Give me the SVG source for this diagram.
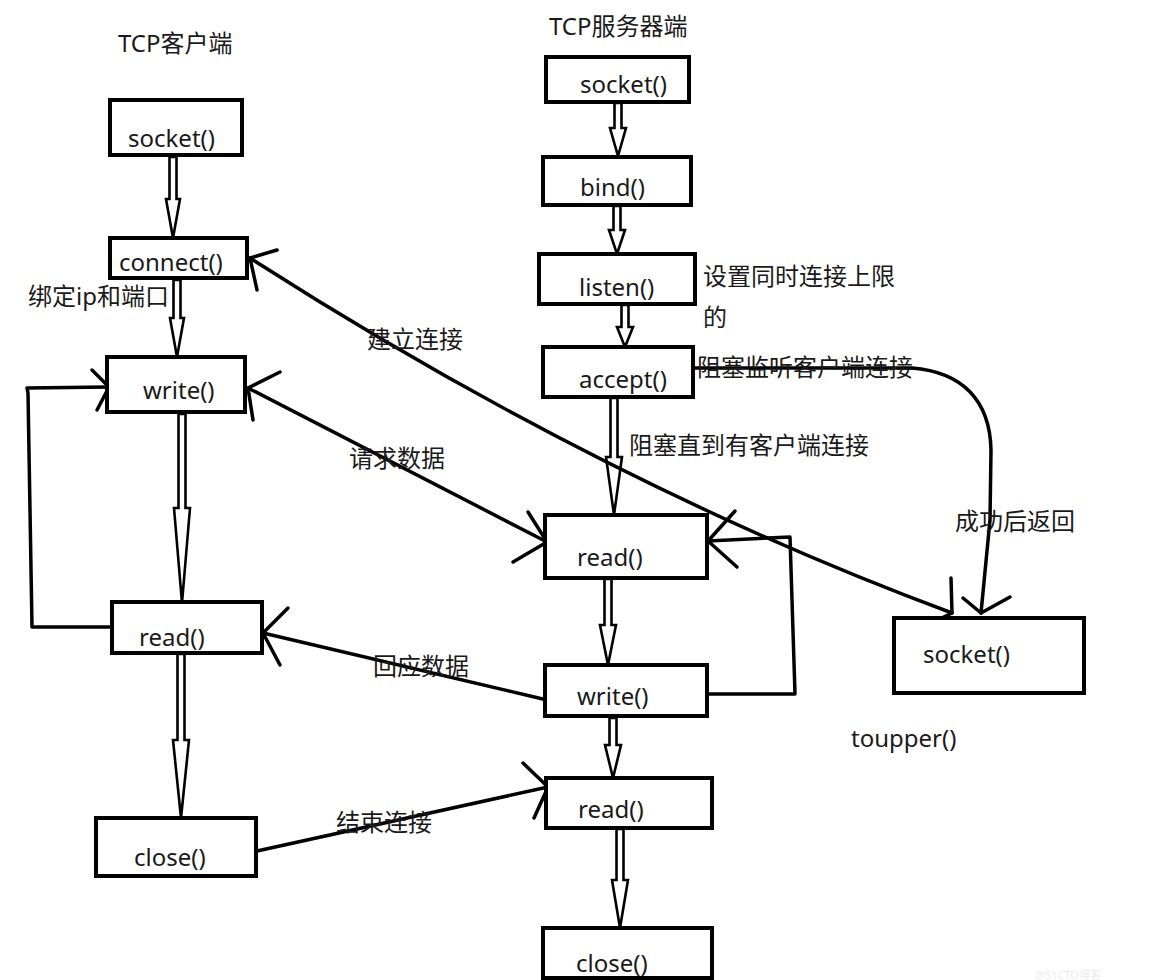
<svg xmlns="http://www.w3.org/2000/svg" width="1164" height="980" viewBox="0 0 1164 980">
<style>
.box{fill:#fff;stroke:#000;stroke-width:4}
.t{font-family:"Noto Sans","Noto Sans CJK SC",sans-serif;font-size:24px;fill:#1a1a1a}
.c{fill:none;stroke:#000;stroke-width:3.5;stroke-linecap:round;stroke-linejoin:round}
.dbl{fill:#fff;stroke:#000;stroke-width:2.6;stroke-linejoin:miter}
</style>
<rect width="1164" height="980" fill="#fff"/>

<g id="connectors">
  <!-- client vertical double arrows -->
  <polygon class="dbl" points="169.5,157 176.5,157 176.5,199 180,199 173,238 166,199 169.5,199"/>
  <polygon class="dbl" points="173.5,280 180.5,280 180.5,318 184,318 177,357 170,318 173.5,318"/>
  <polygon class="dbl" points="178.5,414 185.5,414 185.5,508 190,508 182,603 174,508 178.5,508"/>
  <polygon class="dbl" points="177.5,654 184.5,654 184.5,740 189,740 181,818 173,740 177.5,740"/>
  <!-- server vertical double arrows -->
  <polygon class="dbl" points="614.5,103 621.5,103 621.5,128 626,128 618,156 610,128 614.5,128"/>
  <polygon class="dbl" points="613.5,206 620.5,206 620.5,230 625,230 617,254 609,230 613.5,230"/>
  <polygon class="dbl" points="621.5,305 628.5,305 628.5,327 633,327 625,347 617,327 621.5,327"/>
  <polygon class="dbl" points="610.5,398 617.5,398 617.5,457 622,457 614,515 606,457 610.5,457"/>
  <polygon class="dbl" points="604.5,579 611.5,579 611.5,625 616,625 608,665 600,625 604.5,625"/>
  <polygon class="dbl" points="609.5,718 616.5,718 616.5,745 621,745 613,778 605,745 609.5,745"/>
  <polygon class="dbl" points="616.5,829 623.5,829 623.5,880 628,880 620,928 612,880 616.5,880"/>

  <!-- client loop read -> write -->
  <path class="c" d="M110,627 L32,627 L28,393 L27,388 L108,387"/>
  <path class="c" d="M92,370 L109,387 L97,410"/>

  <!-- 建立连接 -->
  <path class="c" d="M250,258 Q601,483 952,613"/>
  <path class="c" d="M277,250 L250,258 L257,290"/>
  <path class="c" d="M923,627 L952,613 L951,578"/>

  <!-- 请求数据 -->
  <path class="c" d="M248,388 L547,542"/>
  <path class="c" d="M280,372 L248,388 L253,420"/>
  <path class="c" d="M528,512 L547,542 L513,562"/>

  <!-- 回应数据 -->
  <path class="c" d="M547,700 L263,633"/>
  <path class="c" d="M288,608 L263,633 L280,665"/>

  <!-- 结束连接 -->
  <path class="c" d="M257,851 L548,787"/>
  <path class="c" d="M523,763 L548,787 L534,818"/>

  <!-- server loop write -> read -->
  <path class="c" d="M708,694 L795,694 L790,537 L708,541"/>
  <path class="c" d="M735,511 L708,541 L737,567"/>

  <!-- accept -> socket -->
  <path class="c" d="M694,368 L912,368 C962,372 990,400 991,450 L990,520 L981,613"/>
  <path class="c" d="M963,598 L981,613 L1010,597"/>
</g>

<g id="title-client"><text class="t" x="118" y="52">TCP客户端</text></g>
<g id="title-server"><text class="t" x="549" y="35">TCP服务器端</text></g>

<g id="c-socket"><rect class="box" x="110" y="100" width="132" height="55"/><text class="t" x="128" y="147">socket()</text></g>
<g id="c-connect"><rect class="box" x="110" y="238" width="137" height="40"/><text class="t" x="119" y="271">connect()</text></g>
<g id="c-write"><rect class="box" x="107" y="357" width="138" height="55"/><text class="t" x="143" y="399">write()</text></g>
<g id="c-read"><rect class="box" x="112" y="602" width="150" height="51"/><text class="t" x="139" y="646">read()</text></g>
<g id="c-close"><rect class="box" x="96" y="818" width="160" height="58"/><text class="t" x="134" y="866">close()</text></g>

<g id="s-socket"><rect class="box" x="546" y="57" width="143" height="45"/><text class="t" x="580" y="93">socket()</text></g>
<g id="s-bind"><rect class="box" x="543" y="157" width="148" height="48"/><text class="t" x="580" y="196">bind()</text></g>
<g id="s-listen"><rect class="box" x="539" y="254" width="156" height="50"/><text class="t" x="579" y="296">listen()</text></g>
<g id="s-accept"><rect class="box" x="543" y="347" width="150" height="50"/><text class="t" x="579" y="388">accept()</text></g>
<g id="s-read"><rect class="box" x="545" y="515" width="162" height="63"/><text class="t" x="577" y="566">read()</text></g>
<g id="s-write"><rect class="box" x="545" y="665" width="162" height="51"/><text class="t" x="577" y="705">write()</text></g>
<g id="s-read2"><rect class="box" x="546" y="778" width="166" height="50"/><text class="t" x="578" y="818">read()</text></g>
<g id="s-close"><rect class="box" x="543" y="928" width="169" height="50"/><text class="t" x="576" y="972">close()</text></g>
<g id="r-socket"><rect class="box" x="894" y="618" width="190" height="75"/><text class="t" x="923" y="663">socket()</text></g>

<g id="labels">
  <text class="t" x="28" y="305">绑定ip和端口</text>
  <text class="t" x="703" y="285">设置同时连接上限</text>
  <text class="t" x="703" y="326">的</text>
  <text class="t" x="697" y="376">阻塞监听客户端连接</text>
  <text class="t" x="367" y="348">建立连接</text>
  <text class="t" x="349" y="467">请求数据</text>
  <text class="t" x="629" y="454">阻塞直到有客户端连接</text>
  <text class="t" x="955" y="530">成功后返回</text>
  <text class="t" x="373" y="675">回应数据</text>
  <text class="t" x="851" y="747">toupper()</text>
  <text class="t" x="336" y="831">结束连接</text>
  <text x="1035" y="979" style="font-family:'Noto Sans','Noto Sans CJK SC',sans-serif;font-size:11px;fill:#ececec">@51CTO博客</text>
</g>
</svg>
